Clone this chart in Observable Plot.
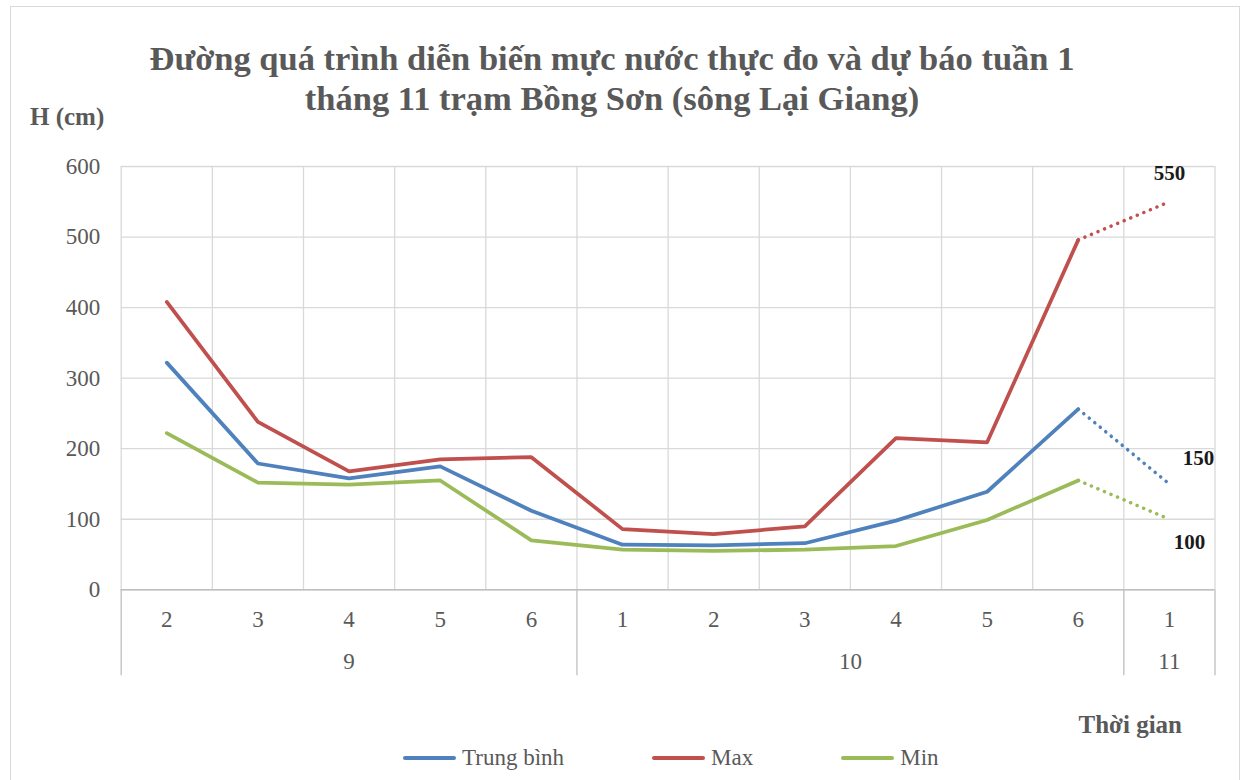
<!DOCTYPE html>
<html>
<head>
<meta charset="utf-8">
<script src="https://cdn.jsdelivr.net/npm/d3@7"></script>
<script src="https://cdn.jsdelivr.net/npm/@observablehq/plot@0.6"></script>
<style>
  html, body { margin: 0; padding: 0; background: #fff; }
  body { width: 1248px; height: 780px; position: relative; overflow: hidden;
         font-family: 'Liberation Serif', 'Times New Roman', serif; color: #595959; }
  #frame { position: absolute; left: 10px; top: 6px; width: 1230px; height: 800px;
           border: 1px solid #d9d9d9; box-sizing: border-box; }
  #title { position: absolute; left: 0; top: 37.5px; width: 1224px; text-align: center;
           font-weight: bold; font-size: 34.5px; line-height: 40px; }
  #ylabel { position: absolute; left: 30px; top: 103.5px; font-weight: bold; font-size: 25px; line-height: 25px; }
  #xlabel { position: absolute; right: 66px; top: 712px; font-weight: bold; font-size: 25px; line-height: 25px; }
  #chart { position: absolute; left: 0; top: 140px; }
  #chart svg text { font-family: 'Liberation Serif', 'Times New Roman', serif; }
  #legend { position: absolute; left: 403px; top: 746px; display: flex; column-gap: 88px;
            font-size: 23px; line-height: 23px; }
  .item { display: flex; align-items: center; }
  .sw { width: 53px; height: 4px; border-radius: 2px; margin-right: 6px; }
</style>
</head>
<body>
<div id="frame"></div>
<div id="title"></div>
<div id="ylabel"></div>
<div id="xlabel"></div>
<div id="chart"></div>
<div id="legend"></div>
<script>
// ---- data ----
const titleLines = ["Đường quá trình diễn biến mực nước thực đo và dự báo tuần 1",
                    "tháng 11 trạm Bồng Sơn (sông Lại Giang)"];
const yTitle = "H (cm)";
const xTitle = "Thời gian";
const weekLabels = ["2", "3", "4", "5", "6", "1", "2", "3", "4", "5", "6", "1"];
const monthLabels = ["9", "10", "11"];
const monthFirstWeek = [0, 5, 11];   // index of first week of each month
const monthLastWeek = [4, 10, 11];   // index of last week of each month
const yTicks = [0, 100, 200, 300, 400, 500, 600];
const seriesNames = ["Trung bình", "Max", "Min"];
const seriesColors = ["#4F81BD", "#C0504D", "#9BBB59"];
const trungBinh = [322, 179, 158, 175, 112, 64, 63, 66, 98, 139, 256];
const maxVals   = [408, 238, 168, 185, 188, 86, 79, 90, 215, 209, 496];
const minVals   = [222, 152, 149, 155, 70, 57, 55, 57, 62, 99, 155];
const forecast  = [150, 550, 100]; // week 1 of month 11: Trung bình, Max, Min

// ---- build tables ----
const observed = [trungBinh, maxVals, minVals];
const obsRows = [];
const fcRows = [];
observed.forEach((arr, k) => {
  arr.forEach((v, i) => obsRows.push({s: seriesNames[k], i, v}));
  const last = arr.length - 1;
  fcRows.push({s: seriesNames[k], i: last, v: arr[last]});
  fcRows.push({s: seriesNames[k], i: last + 1, v: forecast[k]});
});
const fcEnd = fcRows.filter(d => d.i === weekLabels.length - 1);
const weekIdx = weekLabels.map((_, i) => i);
const boundaries = d3.range(-0.5, weekLabels.length, 1);
const monthBounds = [...monthFirstWeek.map(i => i - 0.5), weekLabels.length - 0.5];
const monthCenters = monthFirstWeek.map((f, k) => (f + monthLastWeek[k]) / 2);

// ---- text ----
document.getElementById("title").innerHTML = titleLines.map(t => `<div>${t}</div>`).join("");
document.getElementById("ylabel").textContent = yTitle;
document.getElementById("xlabel").textContent = xTitle;
document.getElementById("legend").innerHTML = seriesNames.map((n, k) =>
  `<div class="item"><div class="sw" style="background:${seriesColors[k]}"></div><span>${n}</span></div>`).join("");

// ---- chart ----
const serif = "'Liberation Serif', 'Times New Roman', serif";
const labelOffsets = {"Trung bình": [29, -25.5], "Max": [0, -29], "Min": [20, 23]};
const chart = Plot.plot({
  width: 1248,
  height: 550,
  marginTop: 26,
  marginBottom: 100.7,
  marginLeft: 120.7,
  marginRight: 33.5,
  x: {type: "linear", domain: [-0.5, weekLabels.length - 0.5], label: null},
  y: {domain: [0, 600], label: null},
  color: {domain: seriesNames, range: seriesColors},
  style: {fontFamily: serif, fontSize: "23px", color: "#595959", background: "transparent"},
  marks: [
    Plot.gridY({ticks: yTicks, stroke: "#d9d9d9", strokeOpacity: 1, strokeWidth: 1.3}),
    Plot.ruleX(boundaries, {stroke: "#d9d9d9", strokeOpacity: 1, strokeWidth: 1.3}),
    Plot.axisX({ticks: monthBounds, tickSize: 86, tickFormat: () => "", label: null,
                stroke: "#bfbfbf", strokeWidth: 1.3, strokeOpacity: 1}),
    Plot.ruleY([0], {stroke: "#bfbfbf", strokeWidth: 1.5}),
    Plot.axisY({ticks: yTicks, tickSize: 0, tickPadding: 21, label: null,
                fontFamily: serif, fontSize: 23, fontVariant: "normal"}),
    Plot.axisX({ticks: weekIdx, tickSize: 0, tickPadding: 20.4, label: null,
                tickFormat: d => weekLabels[d], fontFamily: serif, fontSize: 23, fontVariant: "normal"}),
    Plot.axisX({ticks: monthCenters, tickSize: 0, tickPadding: 62.4, label: null,
                tickFormat: d => monthLabels[monthCenters.indexOf(d)],
                fontFamily: serif, fontSize: 23, fontVariant: "normal"}),
    Plot.line(obsRows, {x: "i", y: "v", z: "s", stroke: "s", strokeWidth: 3.75,
                        strokeLinecap: "round", strokeLinejoin: "round"}),
    Plot.line(fcRows, {x: "i", y: "v", z: "s", stroke: "s", strokeWidth: 3.5,
                       strokeDasharray: "0.1 7", strokeLinecap: "round"}),
    ...fcEnd.map(d => Plot.text([d], {x: "i", y: "v", text: r => String(r.v),
                       dx: labelOffsets[d.s][0], dy: labelOffsets[d.s][1],
                       fontFamily: serif, fontWeight: "bold", fontSize: 21, fill: "#1a1a1a"}))
  ]
});
document.getElementById("chart").appendChild(chart);
</script>
</body>
</html>
